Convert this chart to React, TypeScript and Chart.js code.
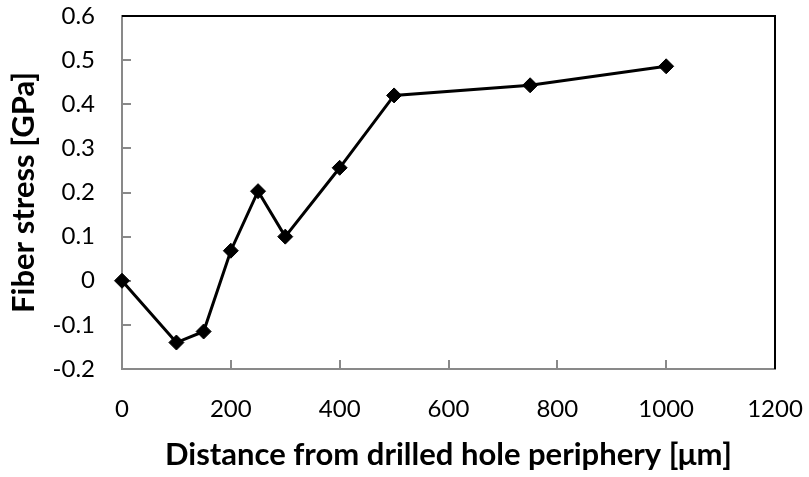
import React, { useEffect, useRef } from "react";
import { Chart, registerables } from "chart.js";

Chart.register(...registerables);

const distances = [0, 100, 150, 200, 250, 300, 400, 500, 750, 1000];
const fiberStress = [0, -0.14, -0.115, 0.068, 0.203, 0.1, 0.256, 0.42, 0.443, 0.486];
const xTicks = [0, 200, 400, 600, 800, 1000, 1200];
const yTicks = [-0.2, -0.1, 0, 0.1, 0.2, 0.3, 0.4, 0.5, 0.6];

const FONT = "Lato, 'Open Sans', sans-serif";
const AXIS_GRAY = "#898989";

const frameAndTicks = {
  id: "frameAndTicks",
  beforeDatasetsDraw(chart: any) {
    const { ctx, chartArea } = chart;
    const { left, right, top, bottom } = chartArea;
    const xs = chart.scales.x;
    const ys = chart.scales.y;
    ctx.save();
    ctx.strokeStyle = "#000";
    ctx.lineWidth = 2;
    ctx.beginPath();
    ctx.moveTo(left, top);
    ctx.lineTo(right, top);
    ctx.lineTo(right, bottom);
    ctx.stroke();
    ctx.strokeStyle = AXIS_GRAY;
    ctx.lineWidth = 2;
    ctx.beginPath();
    xTicks.forEach((v) => {
      const px = Math.round(xs.getPixelForValue(v));
      if (px <= left + 1 || px >= right - 1) return;
      ctx.moveTo(px, bottom);
      ctx.lineTo(px, bottom - 9);
    });
    yTicks.forEach((v) => {
      const py = Math.round(ys.getPixelForValue(v));
      if (py <= top + 1 || py >= bottom - 1) return;
      ctx.moveTo(left, py);
      ctx.lineTo(left + 9, py);
    });
    ctx.stroke();
    ctx.restore();
  },
};

export default function App() {
  const ref = useRef<HTMLCanvasElement | null>(null);
  useEffect(() => {
    if (!ref.current) return;
    const chart = new Chart(ref.current, {
      type: "line",
      data: {
        datasets: [
          {
            data: distances.map((d, i) => ({ x: d, y: fiberStress[i] })),
            borderColor: "#000",
            backgroundColor: "#000",
            borderWidth: 3,
            pointStyle: "rectRot",
            pointRadius: 7.5,
            pointBorderWidth: 1,
            pointBackgroundColor: "#000",
            pointBorderColor: "#000",
            tension: 0,
            clip: false,
          },
        ],
      },
      options: {
        animation: false,
        responsive: false,
        devicePixelRatio: 1,
        layout: { padding: { top: 16, right: 34, left: 0, bottom: 0 } },
        plugins: { legend: { display: false }, tooltip: { enabled: false } },
        scales: {
          x: {
            type: "linear",
            min: 0,
            max: 1200,
            afterBuildTicks: (axis: any) => {
              axis.ticks = xTicks.map((v) => ({ value: v }));
            },
            afterFit: (axis: any) => {
              axis.height = 108;
              axis.paddingLeft = 0;
              axis.paddingRight = 0;
              axis.paddingTop = 0;
              axis.paddingBottom = 0;
            },
            grid: { display: true, drawOnChartArea: false, drawTicks: false },
            border: { display: true, color: AXIS_GRAY, width: 2 },
            ticks: {
              color: "#000",
              padding: 26,
              maxRotation: 0,
              autoSkip: false,
              font: { family: FONT, size: 24 },
              callback: (v: any) => String(v),
            },
            title: {
              display: true,
              text: "Distance from drilled hole periphery [\u03bcm]",
              color: "#000",
              font: { family: FONT, size: 31, weight: "bold" },
              padding: { top: 0, bottom: 3 },
            },
          },
          y: {
            type: "linear",
            min: -0.2,
            max: 0.6,
            afterBuildTicks: (axis: any) => {
              axis.ticks = yTicks.map((v) => ({ value: v }));
            },
            afterFit: (axis: any) => {
              axis.width = 122;
              axis.paddingLeft = 0;
              axis.paddingRight = 0;
              axis.paddingTop = 0;
              axis.paddingBottom = 0;
            },
            grid: { display: true, drawOnChartArea: false, drawTicks: false },
            border: { display: true, color: AXIS_GRAY, width: 2 },
            ticks: {
              color: "#000",
              padding: 27,
              autoSkip: false,
              font: { family: FONT, size: 24 },
              callback: (v: any) => {
                const n = Math.round(Number(v) * 10) / 10;
                return n === 0 ? "0" : String(n);
              },
            },
            title: {
              display: true,
              text: "Fiber stress [GPa]",
              color: "#000",
              font: { family: FONT, size: 31, weight: "bold" },
              padding: { top: 5, bottom: 0 },
            },
          },
        },
      },
      plugins: [frameAndTicks],
    });
    return () => chart.destroy();
  }, []);
  return (
    <div style={{ position: "fixed", left: 0, top: 0, width: 809, height: 477, background: "#fff" }}>
      <canvas ref={ref} width={809} height={477} style={{ display: "block" }} />
    </div>
  );
}
